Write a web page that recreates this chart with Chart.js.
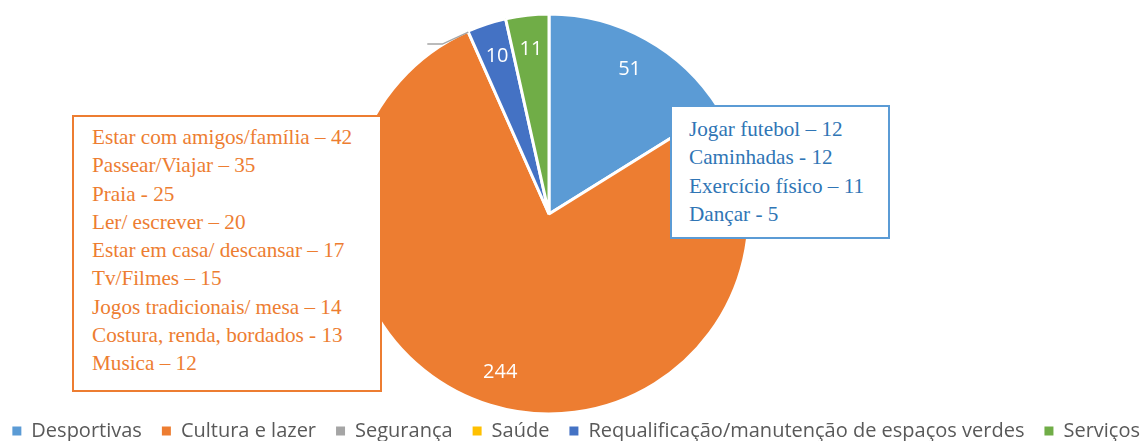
<!DOCTYPE html>
<html lang="pt">
<head>
    <meta charset="UTF-8">
    <title>Atividades</title>
    <script src="https://cdn.jsdelivr.net/npm/chart.js"></script>
    <style>
        body { margin: 0; background: #fff; }
        #wrap { position: relative; width: 1142px; height: 441px; overflow: hidden; }
        /* canvas is a bit wider than the page so the long legend fits on one row */
        #pie { position: absolute; left: -62px; top: 0; }
        .box {
            position: absolute;
            background: #fff;
            font-family: "Liberation Serif", serif;
            font-size: 21.2px;
            line-height: 28.3px;
            box-sizing: border-box;
            white-space: nowrap;
        }
        #boxCultura {
            left: 72px; top: 115px; width: 310px; height: 277px;
            border: 2px solid #ED7D31; color: #ED7D31;
            padding: 6px 0 0 18px;
        }
        #boxDesporto {
            left: 670px; top: 105px; width: 220px; height: 134px;
            border: 2px solid #5B9BD5; color: #2F75B5;
            padding: 8px 0 0 17px;
        }
    </style>
</head>
<body>
<div id="wrap">
    <canvas id="pie" width="1222" height="451"></canvas>
    <div class="box" id="boxCultura"></div>
    <div class="box" id="boxDesporto"></div>
</div>
<script>
    const categories = ['Desportivas', 'Cultura e lazer', 'Segurança', 'Saúde', 'Requalificação/manutenção de espaços verdes', 'Serviços'];
    const values = [51, 244, 0, 0, 10, 11];
    const colors = ['#5B9BD5', '#ED7D31', '#A5A5A5', '#FFC000', '#4472C4', '#70AD47'];
    const showLabel = [true, true, false, false, true, true];

    const culturaItems = [
        'Estar com amigos/família – 42',
        'Passear/Viajar – 35',
        'Praia - 25',
        'Ler/ escrever – 20',
        'Estar em casa/ descansar – 17',
        'Tv/Filmes – 15',
        'Jogos tradicionais/ mesa – 14',
        'Costura, renda, bordados - 13',
        'Musica – 12'
    ];
    const desportoItems = [
        'Jogar futebol – 12',
        'Caminhadas - 12',
        'Exercício físico – 11',
        'Dançar - 5'
    ];

    function fillBox(id, items) {
        const el = document.getElementById(id);
        items.forEach(t => {
            const d = document.createElement('div');
            d.textContent = t;
            el.appendChild(d);
        });
    }
    fillBox('boxCultura', culturaItems);
    fillBox('boxDesporto', desportoItems);

    // value labels inside slices + leader line for the empty slice
    const sliceLabels = {
        id: 'sliceLabels',
        afterDatasetsDraw(chart) {
            const ctx = chart.ctx;
            const meta = chart.getDatasetMeta(0);
            ctx.save();
            meta.data.forEach((arc, i) => {
                const p = arc.getProps(['x', 'y', 'startAngle', 'endAngle', 'outerRadius'], true);
                const mid = (p.startAngle + p.endAngle) / 2;
                if (showLabel[i]) {
                    const r = p.outerRadius * 0.83;
                    ctx.fillStyle = '#fff';
                    ctx.font = '20px "Open Sans"';
                    ctx.textAlign = 'center';
                    ctx.textBaseline = 'middle';
                    ctx.fillText(String(values[i]), p.x + Math.cos(mid) * r, p.y + Math.sin(mid) * r);
                } else if (i === 2) {
                    const r1 = p.outerRadius * 0.995;
                    const x1 = p.x + Math.cos(mid) * r1, y1 = p.y + Math.sin(mid) * r1;
                    const x2 = x1 - 26, y2 = y1 + 12;
                    ctx.strokeStyle = '#A5A5A5';
                    ctx.lineWidth = 1.5;
                    ctx.beginPath();
                    ctx.moveTo(x1, y1);
                    ctx.lineTo(x2, y2);
                    ctx.lineTo(x2 - 15, y2);
                    ctx.stroke();
                }
            });
            ctx.restore();
        }
    };

    const defaultLabels = Chart.overrides.pie.plugins.legend.labels.generateLabels;

    new Chart(document.getElementById('pie').getContext('2d'), {
        type: 'pie',
        data: {
            labels: categories,
            datasets: [{
                data: values,
                backgroundColor: colors,
                borderColor: '#fff',
                borderWidth: 3,
                radius: 200,
                clip: false
            }]
        },
        options: {
            responsive: false,
            animation: false,
            layout: { padding: { top: 27, left: 0, right: 0, bottom: 0 } },
            plugins: {
                tooltip: { enabled: false },
                legend: {
                    position: 'bottom',
                    align: 'end',
                    labels: {
                        boxWidth: 9,
                        boxHeight: 9,
                        padding: 20,
                        color: '#595959',
                        font: { family: '"Open Sans"', size: 20 },
                        generateLabels(chart) {
                            return defaultLabels(chart).map(item => {
                                item.lineWidth = 0;
                                item.strokeStyle = 'rgba(0,0,0,0)';
                                return item;
                            });
                        }
                    }
                }
            }
        },
        plugins: [sliceLabels]
    });
</script>
</body>
</html>
